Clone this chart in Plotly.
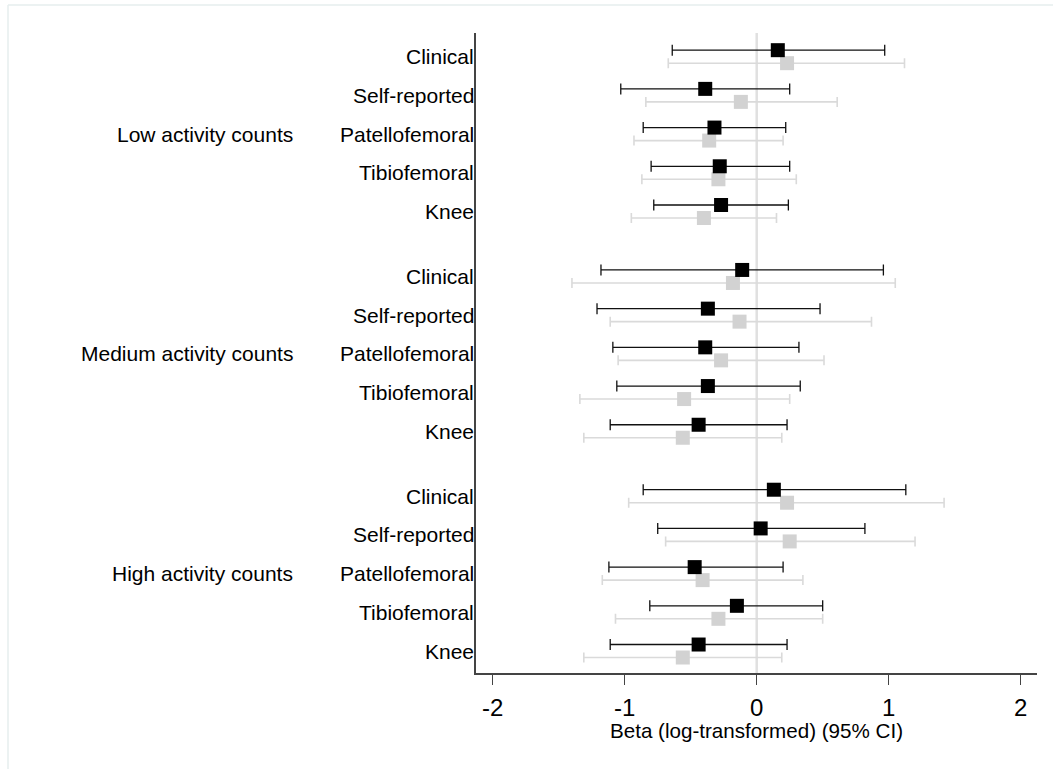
import plotly.graph_objects as go

# ---- data ----
groups = ["Low activity counts", "Medium activity counts", "High activity counts"]
measures = ["Clinical", "Self-reported", "Patellofemoral", "Tibiofemoral", "Knee"]

# Series A (black)
beta_a = [0.16, -0.39, -0.32, -0.28, -0.27,
          -0.11, -0.37, -0.39, -0.37, -0.44,
          0.13, 0.03, -0.47, -0.15, -0.44]
lo_a = [-0.64, -1.03, -0.86, -0.80, -0.78,
        -1.18, -1.21, -1.09, -1.06, -1.11,
        -0.86, -0.75, -1.12, -0.81, -1.11]
hi_a = [0.97, 0.25, 0.22, 0.25, 0.24,
        0.96, 0.48, 0.32, 0.33, 0.23,
        1.13, 0.82, 0.20, 0.50, 0.23]

# Series B (grey)
beta_b = [0.23, -0.12, -0.36, -0.29, -0.40,
          -0.18, -0.13, -0.27, -0.55, -0.56,
          0.23, 0.25, -0.41, -0.29, -0.56]
lo_b = [-0.67, -0.84, -0.93, -0.87, -0.95,
        -1.40, -1.11, -1.05, -1.34, -1.31,
        -0.97, -0.69, -1.17, -1.07, -1.31]
hi_b = [1.12, 0.61, 0.20, 0.30, 0.15,
        1.05, 0.87, 0.51, 0.25, 0.19,
        1.42, 1.20, 0.35, 0.50, 0.19]

x_ticks = [-2, -1, 0, 1, 2]
x_title = "Beta (log-transformed) (95% CI)"

# ---- layout helpers ----
GROUP_STEP = 5.679
OFFSET = 0.168
rows = []
labels = []
for gi, g in enumerate(groups):
    for mi, m in enumerate(measures):
        rows.append(gi * GROUP_STEP + mi)
        labels.append(m)

y_a = [r - OFFSET for r in rows]
y_b = [r + OFFSET for r in rows]

GREY_MARK = "#d2d2d2"
GREY_LINE = "#dadada"

fig = go.Figure()

fig.add_trace(go.Scatter(
    x=beta_b, y=y_b, mode="markers",
    marker=dict(symbol="square", size=14, color=GREY_MARK),
    error_x=dict(type="data", symmetric=False,
                 array=[h - b for h, b in zip(hi_b, beta_b)],
                 arrayminus=[b - l for b, l in zip(beta_b, lo_b)],
                 color=GREY_LINE, thickness=1.6, width=5),
    showlegend=False, hoverinfo="x"))

fig.add_trace(go.Scatter(
    x=beta_a, y=y_a, mode="markers",
    marker=dict(symbol="square", size=14, color="black"),
    error_x=dict(type="data", symmetric=False,
                 array=[h - b for h, b in zip(hi_a, beta_a)],
                 arrayminus=[b - l for b, l in zip(beta_a, lo_a)],
                 color="#111111", thickness=1.3, width=5.5),
    showlegend=False, hoverinfo="x"))

FONT = "Liberation Sans, Arial, sans-serif"
annotations = []
for r, lab in zip(rows, labels):
    annotations.append(dict(x=0, xref="paper", y=r, yref="y", text=lab,
                            xanchor="right", yanchor="middle", xshift=0,
                            showarrow=False, font=dict(size=21, color="black", family=FONT)))
for gi, g in enumerate(groups):
    annotations.append(dict(x=0, xref="paper", y=gi * GROUP_STEP + 2, yref="y", text=g,
                            xanchor="right", yanchor="middle", xshift=-181,
                            showarrow=False, font=dict(size=21, color="black", family=FONT)))
annotations.append(dict(x=0, xref="x", y=0, yref="paper", text=x_title,
                        xanchor="center", yanchor="middle", yshift=-57,
                        showarrow=False, font=dict(size=20.6, color="black", family=FONT)))

shapes = [
    dict(type="line", xref="x", yref="paper", x0=0, x1=0, y0=0, y1=1,
         line=dict(color="#e0e0e0", width=2.5), layer="below"),
    # outer frame (top and left edges)
    dict(type="line", xref="paper", yref="paper", x0=-0.8342, x1=1.03, y0=1.04375, y1=1.04375,
         line=dict(color="#e6eeee", width=1.5)),
    dict(type="line", xref="paper", yref="paper", x0=-0.8342, x1=-0.8342, y0=1.04375, y1=-0.16,
         line=dict(color="#e6eeee", width=1.5)),
]

fig.update_layout(
    width=1053, height=769,
    margin=dict(l=476, r=16, t=33, b=96, autoexpand=False),
    paper_bgcolor="white", plot_bgcolor="white",
    font=dict(family=FONT, color="black"),
    xaxis=dict(range=[-2.127, 2.124], tickvals=x_ticks,
               ticktext=[str(t) for t in x_ticks],
               showgrid=False, zeroline=False,
               showline=True, linecolor="#444444", linewidth=1.5,
               ticks="outside", ticklen=10, tickwidth=1.3, tickcolor="#444444",
               tickfont=dict(size=24, color="black", family=FONT),
               ticklabelstandoff=2),
    yaxis=dict(range=[15.926, -0.612], showticklabels=False, ticks="",
               showgrid=False, zeroline=False,
               showline=True, linecolor="#444444", linewidth=1.5),
    annotations=annotations, shapes=shapes,
)

fig.write_html("out.html", config={"displayModeBar": False},
               post_script="document.body.style.margin='0';document.body.style.overflow='hidden';")
